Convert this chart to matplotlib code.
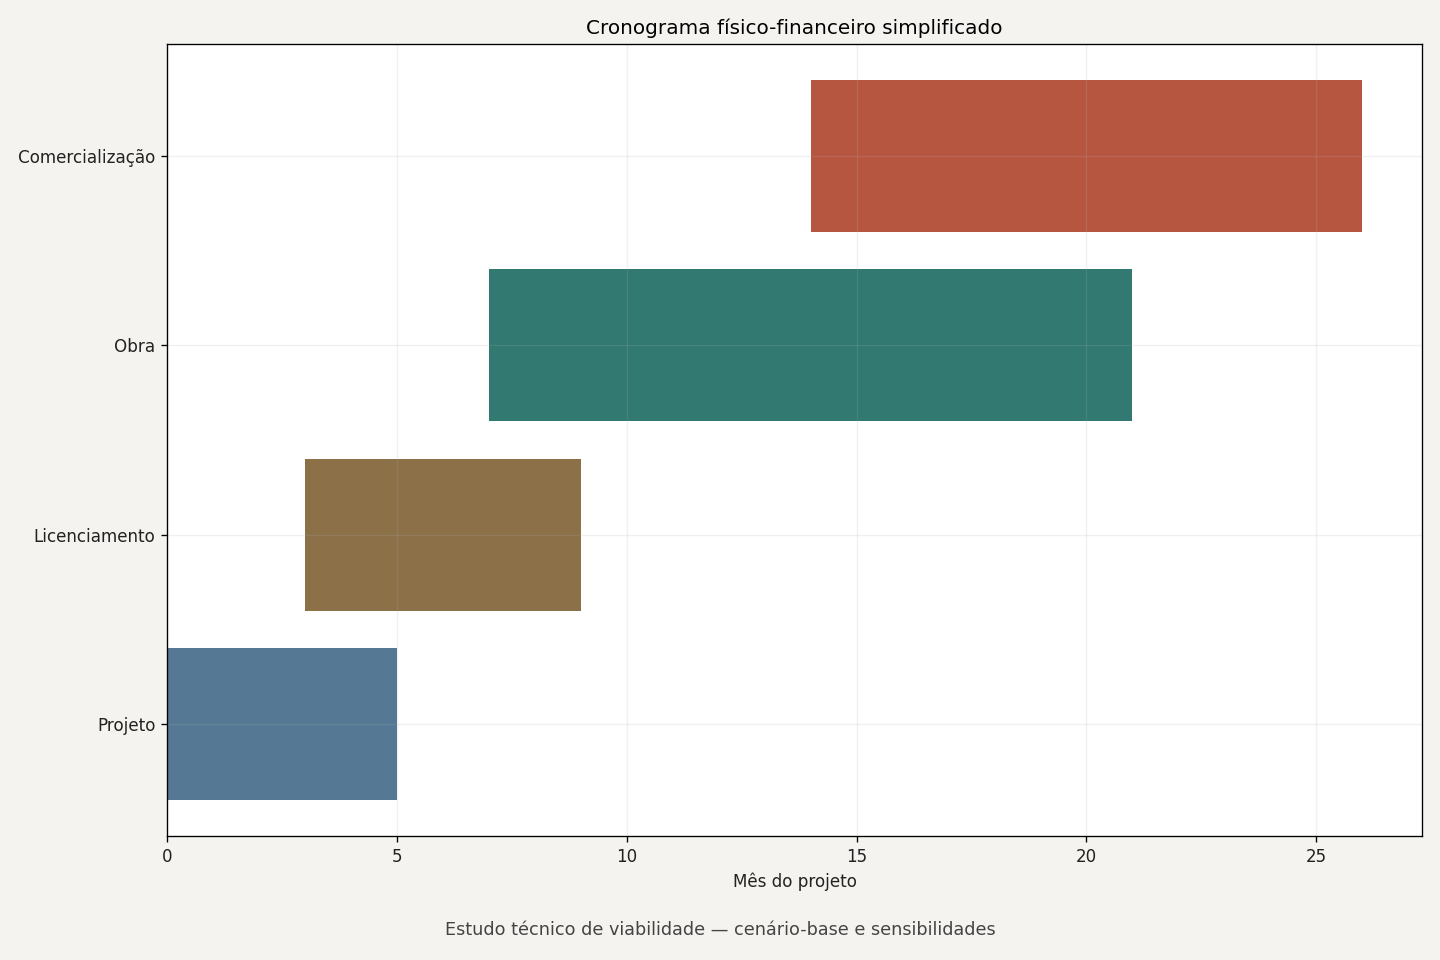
import numpy as np
import matplotlib
matplotlib.use("Agg")
import matplotlib.pyplot as plt

# fases do cronograma (mes inicial e duracao)
fases = ["Projeto", "Licenciamento", "Obra", "Comercialização"]
inicio = [0, 3, 7, 14]
duracao = [5, 6, 14, 12]
cores = ["#426b89", "#7e6034", "#1c6b62", "#b0432b"]

titulo = "Cronograma físico-financeiro simplificado"
xlabel = "Mês do projeto"
rodape = "Estudo técnico de viabilidade — cenário-base e sensibilidades"

fig = plt.figure(figsize=(12, 8), dpi=120, facecolor="#f4f3ef")
ax = fig.add_axes([167/1440, 1 - 836/960, (1422-167)/1440, (836-44)/960])
ax.set_facecolor("white")

y = np.arange(len(fases))
ax.barh(y, duracao, left=inicio, height=0.8, color=cores, alpha=0.9)

ax.set_yticks(y)
ax.set_yticklabels(fases, fontsize=10.05, color="#222222")
ax.tick_params(axis="x", labelsize=10.05, labelcolor="#222222")
ax.set_xlabel(xlabel, fontsize=10.05, color="#222222")
ax.set_title(titulo, fontsize=12, pad=6)
ax.grid(True, color="#b0b0b0", alpha=0.18, linewidth=0.8)

fig.text(0.5, 0.031, rodape, ha="center", va="center", fontsize=10.6, color="#444444")

fig.savefig("out.png", dpi=120, facecolor=fig.get_facecolor())
